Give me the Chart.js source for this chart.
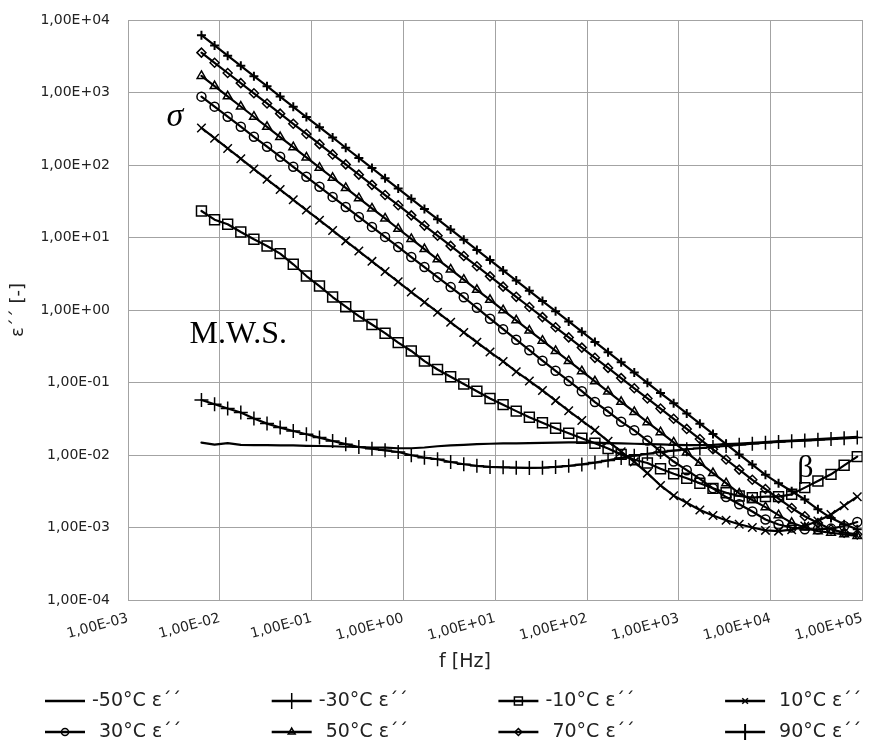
<!DOCTYPE html>
<html>
<head>
<meta charset="utf-8">
<script src="https://cdn.jsdelivr.net/npm/chart.js@4/dist/chart.umd.min.js"></script>
<style>
html,body{margin:0;padding:0;background:#ffffff;}
#wrap{width:871px;height:745px;}
</style>
</head>
<body>
<div id="wrap"><canvas id="c" width="871" height="745"></canvas></div>
<script>
// ---------- data ----------
const frequencies = [0.00631, 0.00877, 0.01218, 0.01693, 0.02352, 0.03268, 0.04541, 0.0631, 0.0877, 0.1218,
  0.1693, 0.2352, 0.3268, 0.4541, 0.631, 0.877, 1.218, 1.693, 2.352, 3.268,
  4.541, 6.31, 8.77, 12.18, 16.93, 23.52, 32.68, 45.41, 63.1, 87.7,
  121.8, 169.3, 235.2, 326.8, 454.1, 631, 877, 1218, 1693, 2352,
  3268, 4541, 6310, 8770, 12180, 16930, 23520, 32680, 45410, 63100, 87700];

const seriesNames = ['-50°C ε´´', '-30°C ε´´', '-10°C ε´´', '10°C ε´´', '30°C ε´´', '50°C ε´´', '70°C ε´´', '90°C ε´´'];

const eps_m50 = [0.0148, 0.0139, 0.0146, 0.0138, 0.0137, 0.0137, 0.0136, 0.0136, 0.0134, 0.0133,
  0.0132, 0.0130, 0.0129, 0.0127, 0.0126, 0.0124, 0.0124, 0.0127, 0.0132, 0.0136,
  0.0138, 0.0141, 0.0143, 0.0145, 0.0145, 0.0146, 0.0147, 0.0148, 0.0149, 0.0149,
  0.0148, 0.0146, 0.0145, 0.0143, 0.0141, 0.0140, 0.0138, 0.0137, 0.0137, 0.0138,
  0.0141, 0.0144, 0.0147, 0.0151, 0.0155, 0.0158, 0.0162, 0.0166, 0.0170, 0.0174, 0.0178];

const eps_m30 = [0.0574, 0.0501, 0.0437, 0.0385, 0.0318, 0.0271, 0.0239, 0.0214, 0.0193, 0.0174,
  0.0156, 0.0141, 0.0129, 0.0122, 0.0116, 0.0110, 0.00991, 0.00920, 0.00873, 0.00800,
  0.00745, 0.00708, 0.00684, 0.00676, 0.00668, 0.00664, 0.00668, 0.00684, 0.00708, 0.00741,
  0.00785, 0.00841, 0.00912, 0.00977, 0.0104, 0.0110, 0.0115, 0.0120, 0.0124, 0.0129,
  0.0133, 0.0138, 0.0143, 0.0148, 0.0151, 0.0155, 0.0158, 0.0162, 0.0166, 0.0170, 0.0174];

const eps_m10 = [23.2, 17.6, 15.2, 11.9, 9.44, 7.64, 6.00, 4.27, 2.94, 2.14,
  1.51, 1.11, 0.822, 0.631, 0.479, 0.355, 0.272, 0.197, 0.151, 0.120,
  0.0955, 0.0759, 0.0603, 0.0495, 0.0403, 0.0331, 0.0279, 0.0234, 0.0200, 0.0170,
  0.0145, 0.0123, 0.0102, 0.00861, 0.00776, 0.00646, 0.00550, 0.00479, 0.00407, 0.00347,
  0.00302, 0.00272, 0.00258, 0.00267, 0.00267, 0.00287, 0.00355, 0.00438, 0.00541, 0.00721, 0.00951];

const eps_p10 = [324, 234, 169, 122, 87.9, 63.5, 45.8, 33.1, 23.9, 17.3,
  12.5, 8.99, 6.50, 4.69, 3.39, 2.45, 1.77, 1.28, 0.933, 0.676,
  0.490, 0.359, 0.263, 0.195, 0.141, 0.105, 0.0776, 0.0562, 0.0407, 0.0299,
  0.0219, 0.0155, 0.0111, 0.00804, 0.00562, 0.00380, 0.00275, 0.00219, 0.00174, 0.00146,
  0.00126, 0.00111, 0.00100, 0.000912, 0.000891, 0.000933, 0.00105, 0.00123, 0.00151, 0.00200, 0.00266];

const eps_p30 = [877, 638, 463, 337, 245, 179, 130, 94.4, 68.7, 50.0,
  36.3, 26.4, 19.2, 14.0, 10.2, 7.40, 5.38, 3.91, 2.84, 2.07,
  1.50, 1.07, 0.759, 0.543, 0.389, 0.279, 0.200, 0.145, 0.105, 0.0759,
  0.0537, 0.0398, 0.0288, 0.0219, 0.0158, 0.0112, 0.00813, 0.00617, 0.00468, 0.00347,
  0.00263, 0.00209, 0.00166, 0.00129, 0.00110, 0.00100, 0.000944, 0.000944, 0.000966, 0.00105, 0.00119];

const eps_p50 = [1690, 1225, 885, 641, 463, 336, 243, 176, 127, 92.0,
  66.7, 48.2, 34.9, 25.2, 18.3, 13.2, 9.57, 6.93, 5.01, 3.63,
  2.62, 1.90, 1.38, 0.995, 0.721, 0.521, 0.378, 0.273, 0.198, 0.143,
  0.104, 0.0750, 0.0542, 0.0393, 0.0284, 0.0206, 0.0149, 0.0108, 0.00780, 0.00564,
  0.00408, 0.00295, 0.00240, 0.00191, 0.00148, 0.00116, 0.00100, 0.000891, 0.000847, 0.000805, 0.000764];

const eps_p70 = [3548, 2570, 1858, 1346, 975, 706, 511, 370, 268, 194,
  140, 102, 73.6, 53.2, 38.5, 27.9, 20.2, 14.6, 10.6, 7.66,
  5.55, 4.02, 2.91, 2.10, 1.52, 1.10, 0.798, 0.578, 0.419, 0.303,
  0.219, 0.159, 0.115, 0.0832, 0.0603, 0.0437, 0.0316, 0.0229, 0.0166, 0.0120,
  0.00867, 0.00628, 0.00455, 0.00339, 0.00251, 0.00186, 0.00143, 0.00115, 0.000944, 0.000851, 0.000805];

const eps_p90 = [6170, 4460, 3220, 2330, 1680, 1220, 879, 635, 459, 332,
  240, 173, 125, 90.6, 65.5, 47.3, 34.2, 24.7, 17.9, 12.9,
  9.33, 6.75, 4.88, 3.52, 2.55, 1.84, 1.33, 0.962, 0.695, 0.502,
  0.363, 0.262, 0.190, 0.137, 0.0991, 0.0716, 0.0518, 0.0374, 0.0270, 0.0195,
  0.0141, 0.0102, 0.00738, 0.00533, 0.00407, 0.00316, 0.00243, 0.00178, 0.00135, 0.00111, 0.000944];

const xTickValues = [1e-3, 1e-2, 1e-1, 1e0, 1e1, 1e2, 1e3, 1e4, 1e5];
const xTickLabels = ['1,00E-03', '1,00E-02', '1,00E-01', '1,00E+00', '1,00E+01', '1,00E+02', '1,00E+03', '1,00E+04', '1,00E+05'];
const yTickValues = [1e-4, 1e-3, 1e-2, 1e-1, 1e0, 1e1, 1e2, 1e3, 1e4];
const yTickLabels = ['1,00E-04', '1,00E-03', '1,00E-02', '1,00E-01', '1,00E+00', '1,00E+01', '1,00E+02', '1,00E+03', '1,00E+04'];

const xAxisTitle = 'f [Hz]';
const yAxisTitle = 'ε´´ [-]';
const annotationTexts = ['σ', 'M.W.S.', 'β'];

// ---------- styling ----------
const seriesValues = [eps_m50, eps_m30, eps_m10, eps_p10, eps_p30, eps_p50, eps_p70, eps_p90];
const markerStyles = [
  {style: false, r: 0, lr: 0},
  {style: 'cross', r: 7, lr: 8},
  {style: 'rect', r: 7, lr: 5},
  {style: 'crossRot', r: 6, lr: 4},
  {style: 'circle', r: 4.5, lr: 3.5},
  {style: 'triangle', r: 5, lr: 4},
  {style: 'rectRot', r: 4.5, lr: 3.5},
  {style: 'cross', r: 4.5, lr: 8}
];
const markerWidths = [0, 1.5, 1.5, 1.5, 1.5, 1.5, 1.5, 2];
const annotationSpec = [
  {x: 2.62e-3, y: 342, font: 'italic 34px "Liberation Serif"'},
  {x: 4.68e-3, y: 0.355, font: '32px "Liberation Serif"'},
  {x: 1.95e4, y: 4.9e-3, font: '32px "Liberation Serif"'}
];
const FONT = '"DejaVu Sans"';

const datasets = seriesValues.map((vals, k) => ({
  label: seriesNames[k],
  data: frequencies.map((f, i) => ({x: f, y: vals[i]})),
  borderColor: '#000000',
  borderWidth: 2.2,
  pointStyle: markerStyles[k].style,
  pointRadius: markerStyles[k].r,
  pointHoverRadius: markerStyles[k].r,
  pointBorderColor: '#000000',
  pointBackgroundColor: 'rgba(0,0,0,0)',
  pointBorderWidth: markerWidths[k],
  tension: 0,
  fill: false
}));

function drawMarker(ctx, style, x, y, r) {
  if (!style || r <= 0) return;
  ctx.beginPath();
  if (style === 'cross') {
    ctx.moveTo(x, y - r); ctx.lineTo(x, y + r);
    ctx.moveTo(x - r, y); ctx.lineTo(x + r, y);
  } else if (style === 'crossRot') {
    const d = r * Math.SQRT1_2;
    ctx.moveTo(x - d, y - d); ctx.lineTo(x + d, y + d);
    ctx.moveTo(x - d, y + d); ctx.lineTo(x + d, y - d);
  } else if (style === 'rect') {
    ctx.rect(x - r * 0.8, y - r * 0.8, r * 1.6, r * 1.6);
  } else if (style === 'circle') {
    ctx.arc(x, y, r, 0, Math.PI * 2);
  } else if (style === 'triangle') {
    ctx.moveTo(x, y - r);
    ctx.lineTo(x + r * 0.866, y + r * 0.5);
    ctx.lineTo(x - r * 0.866, y + r * 0.5);
    ctx.closePath();
  } else if (style === 'rectRot') {
    ctx.moveTo(x, y - r); ctx.lineTo(x + r, y); ctx.lineTo(x, y + r); ctx.lineTo(x - r, y);
    ctx.closePath();
  }
  ctx.stroke();
}

const extrasPlugin = {
  id: 'extras',
  afterDraw(chart) {
    const ctx = chart.ctx;
    const xs = chart.scales.x, ys = chart.scales.y;
    ctx.save();
    ctx.fillStyle = '#000000';
    // annotations placed through the scales
    ctx.textAlign = 'left';
    ctx.textBaseline = 'alphabetic';
    annotationTexts.forEach((t, i) => {
      const a = annotationSpec[i];
      ctx.font = a.font;
      ctx.fillText(t, xs.getPixelForValue(a.x), ys.getPixelForValue(a.y));
    });
    // x axis title
    ctx.font = '19px ' + FONT;
    ctx.textAlign = 'center';
    ctx.textBaseline = 'middle';
    ctx.fillStyle = '#222222';
    ctx.fillText(xAxisTitle, 465, 662);
    // legend
    ctx.font = '19px ' + FONT;
    ctx.textAlign = 'left';
    chart.data.datasets.forEach((ds, k) => {
      const col = k % 4, row = Math.floor(k / 4);
      const x0 = 45 + col * 226.7;
      const y = 701 + row * 31;
      ctx.strokeStyle = '#000000';
      ctx.lineWidth = 2.5;
      ctx.beginPath(); ctx.moveTo(x0, y); ctx.lineTo(x0 + 40, y); ctx.stroke();
      ctx.lineWidth = markerWidths[k] || 1.5;
      drawMarker(ctx, markerStyles[k].style, x0 + 20, y, markerStyles[k].lr);
      ctx.fillStyle = '#222222';
      const label = ds.label;
      const tx = x0 + 47 + (label.charAt(0) === '-' ? 0 : 7);
      ctx.fillText(label, tx, y);
    });
    ctx.restore();
  }
};

const gridColor = '#a3a3a3';

new Chart(document.getElementById('c'), {
  type: 'line',
  data: {datasets},
  options: {
    responsive: false,
    animation: false,
    devicePixelRatio: 1,
    layout: {padding: {left: 0, right: 7, top: 20, bottom: 0}},
    plugins: {legend: {display: false}, tooltip: {enabled: false}},
    elements: {line: {borderCapStyle: 'round', borderJoinStyle: 'round'}},
    scales: {
      x: {
        type: 'logarithmic',
        min: 1e-3, max: 1e5,
        afterBuildTicks: s => { s.ticks = xTickValues.map(v => ({value: v})); },
        afterFit: s => { s.height = 145; s.paddingLeft = 0; s.paddingRight = 0; },
        grid: {color: gridColor, lineWidth: 1, drawTicks: false},
        border: {color: gridColor, width: 1},
        ticks: {
          autoSkip: false, minRotation: 15, maxRotation: 15, padding: 10,
          color: '#222222', font: {family: 'DejaVu Sans', size: 14},
          callback: (v, i) => xTickLabels[xTickValues.indexOf(v)] ?? xTickLabels[i]
        },
        title: {display: false}
      },
      y: {
        type: 'logarithmic',
        min: 1e-4, max: 1e4,
        afterBuildTicks: s => { s.ticks = yTickValues.map(v => ({value: v})); },
        afterFit: s => { s.width = 128; s.paddingTop = 0; s.paddingBottom = 0; },
        grid: {color: gridColor, lineWidth: 1, drawTicks: false},
        border: {color: gridColor, width: 1},
        ticks: {
          autoSkip: false, padding: 18,
          color: '#222222', font: {family: 'DejaVu Sans', size: 14},
          callback: (v, i) => yTickLabels[yTickValues.indexOf(v)] ?? yTickLabels[i]
        },
        title: {display: true, text: yAxisTitle, color: '#222222', font: {family: 'DejaVu Sans', size: 18}, padding: {top: 8, bottom: 0}}
      }
    }
  },
  plugins: [extrasPlugin]
});
</script>
</body>
</html>
